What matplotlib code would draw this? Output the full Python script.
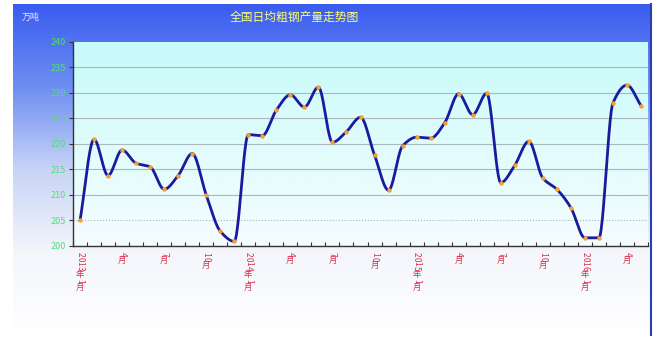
import numpy as np
import matplotlib
matplotlib.use('Agg')
import matplotlib.pyplot as plt
from matplotlib.colors import LinearSegmentedColormap

plt.rcParams['font.family'] = ['Noto Sans CJK SC', 'DejaVu Sans']

# daily average crude steel output, Jan 2013 .. May 2016 (10k tonnes)
output = [205.0, 220.9, 213.8, 218.8, 216.2, 215.5, 211.1, 213.8, 218.1, 210.0,
          202.9, 200.9, 221.8, 221.6, 226.6, 229.6, 227.2, 231.1, 220.3, 222.4,
          225.2, 217.8, 210.9, 219.6, 221.3, 221.1, 224.1, 229.8, 225.7, 229.9,
          212.4, 215.8, 220.5, 213.3, 211.1, 207.5, 201.6, 201.6, 228.0, 231.5,
          227.5]
tick_idx = [0, 3, 6, 9, 12, 15, 18, 21, 24, 27, 30, 33, 36, 39]
tick_labels = ['2013年1月', '4月', '7月', '10月', '2014年1月', '4月', '7月', '10月',
               '2015年1月', '4月', '7月', '10月', '2016年1月', '4月']
y_ticks = [200, 205, 210, 215, 220, 225, 230, 235, 240]

W, H = 667, 345
fig = plt.figure(figsize=(W / 100, H / 100), dpi=100)

# blue -> white backdrop of the whole chart
bg = fig.add_axes([13 / W, (H - 335) / H, (652 - 13) / W, (335 - 4) / H])
bg_cmap = LinearSegmentedColormap.from_list('bg', ['#3a5cf0', '#6e8ef2', '#c8d4f6', '#f4f6fc', '#ffffff'])
bg.imshow(np.linspace(0, 1, 256).reshape(-1, 1), cmap=bg_cmap, aspect='auto', extent=[0, 1, 0, 1])
bg.axis('off')
fig.add_artist(plt.Line2D([651 / W, 651 / W], [(H - 335) / H, (H - 4) / H], color='#2a40a8', lw=1.5))

fig.text(22 / W, 1 - 17 / H, '万吨', color='#e8ecff', fontsize=6.5, va='center')
fig.text(294 / W, 1 - 17 / H, '全国日均粗钢产量走势图', color='#ffff70', fontsize=8.5,
         ha='center', va='center')

ax = fig.add_axes([73 / W, (H - 246) / H, (648 - 73) / W, (246 - 41.7) / H])
ax.set_xlim(-0.5, len(output) - 0.5)
ax.set_ylim(200, 240)
plot_cmap = LinearSegmentedColormap.from_list('pa', ['#c6fafa', '#e0fcfc', '#f6fcff'])
ax.imshow(np.linspace(0, 1, 256).reshape(-1, 1), cmap=plot_cmap, aspect='auto',
          extent=[-0.5, len(output) - 0.5, 200, 240], zorder=0)

for v in y_ticks[1:-1]:
    ax.axhline(v, color='#a8b8bc', lw=0.8, ls=':' if v == 205 else '-', zorder=1)

# smooth monotone curve through the points (Fritsch-Carlson)
x = np.arange(len(output), dtype=float)
y = np.array(output)
d = np.diff(y)
m = np.zeros_like(y)
m[0], m[-1] = d[0], d[-1]
for i in range(1, len(y) - 1):
    if d[i - 1] * d[i] > 0:
        m[i] = 2 / (1 / d[i - 1] + 1 / d[i])
t = np.linspace(0, 1, 24, endpoint=False)
cx, cy = [], []
for i in range(len(y) - 1):
    h00 = 2 * t ** 3 - 3 * t ** 2 + 1
    h10 = t ** 3 - 2 * t ** 2 + t
    h01 = -2 * t ** 3 + 3 * t ** 2
    h11 = t ** 3 - t ** 2
    cx.extend(x[i] + t)
    cy.extend(h00 * y[i] + h10 * m[i] + h01 * y[i + 1] + h11 * m[i + 1])
cx.append(x[-1])
cy.append(y[-1])
ax.plot(cx, cy, color='#1a1a9e', lw=2, zorder=3)
ax.plot(x, y, 'o', color='#f5a032', ms=3.2, mec='none', zorder=4)

ax.set_yticks(y_ticks)
ax.tick_params(axis='y', direction='out', length=3, colors='#333333', labelcolor='#55dd77',
               labelsize=6.5, pad=2)
ax.set_xticks(np.arange(-0.5, len(output), 1))
ax.set_xticklabels([])
ax.tick_params(axis='x', direction='in', length=3, colors='#333333')
for s in ('top', 'right'):
    ax.spines[s].set_visible(False)
for s in ('left', 'bottom'):
    ax.spines[s].set_color('#333333')
    ax.spines[s].set_linewidth(1)

# vertical stacked month labels: digits turned sideways, CJK upright
for i, lab in zip(tick_idx, tick_labels):
    off = -6.0
    for ch in lab:
        step = 4.6 if ch.isdigit() else 8.6
        ax.annotate(ch, xy=(i, 0), xycoords=('data', 'axes fraction'),
                    xytext=(0, off - step / 2), textcoords='offset pixels',
                    ha='center', va='center', rotation=270 if ch.isdigit() else 0,
                    color='#d9304a', fontsize=6, annotation_clip=False)
        off -= step

fig.savefig('out.png', dpi=100)
